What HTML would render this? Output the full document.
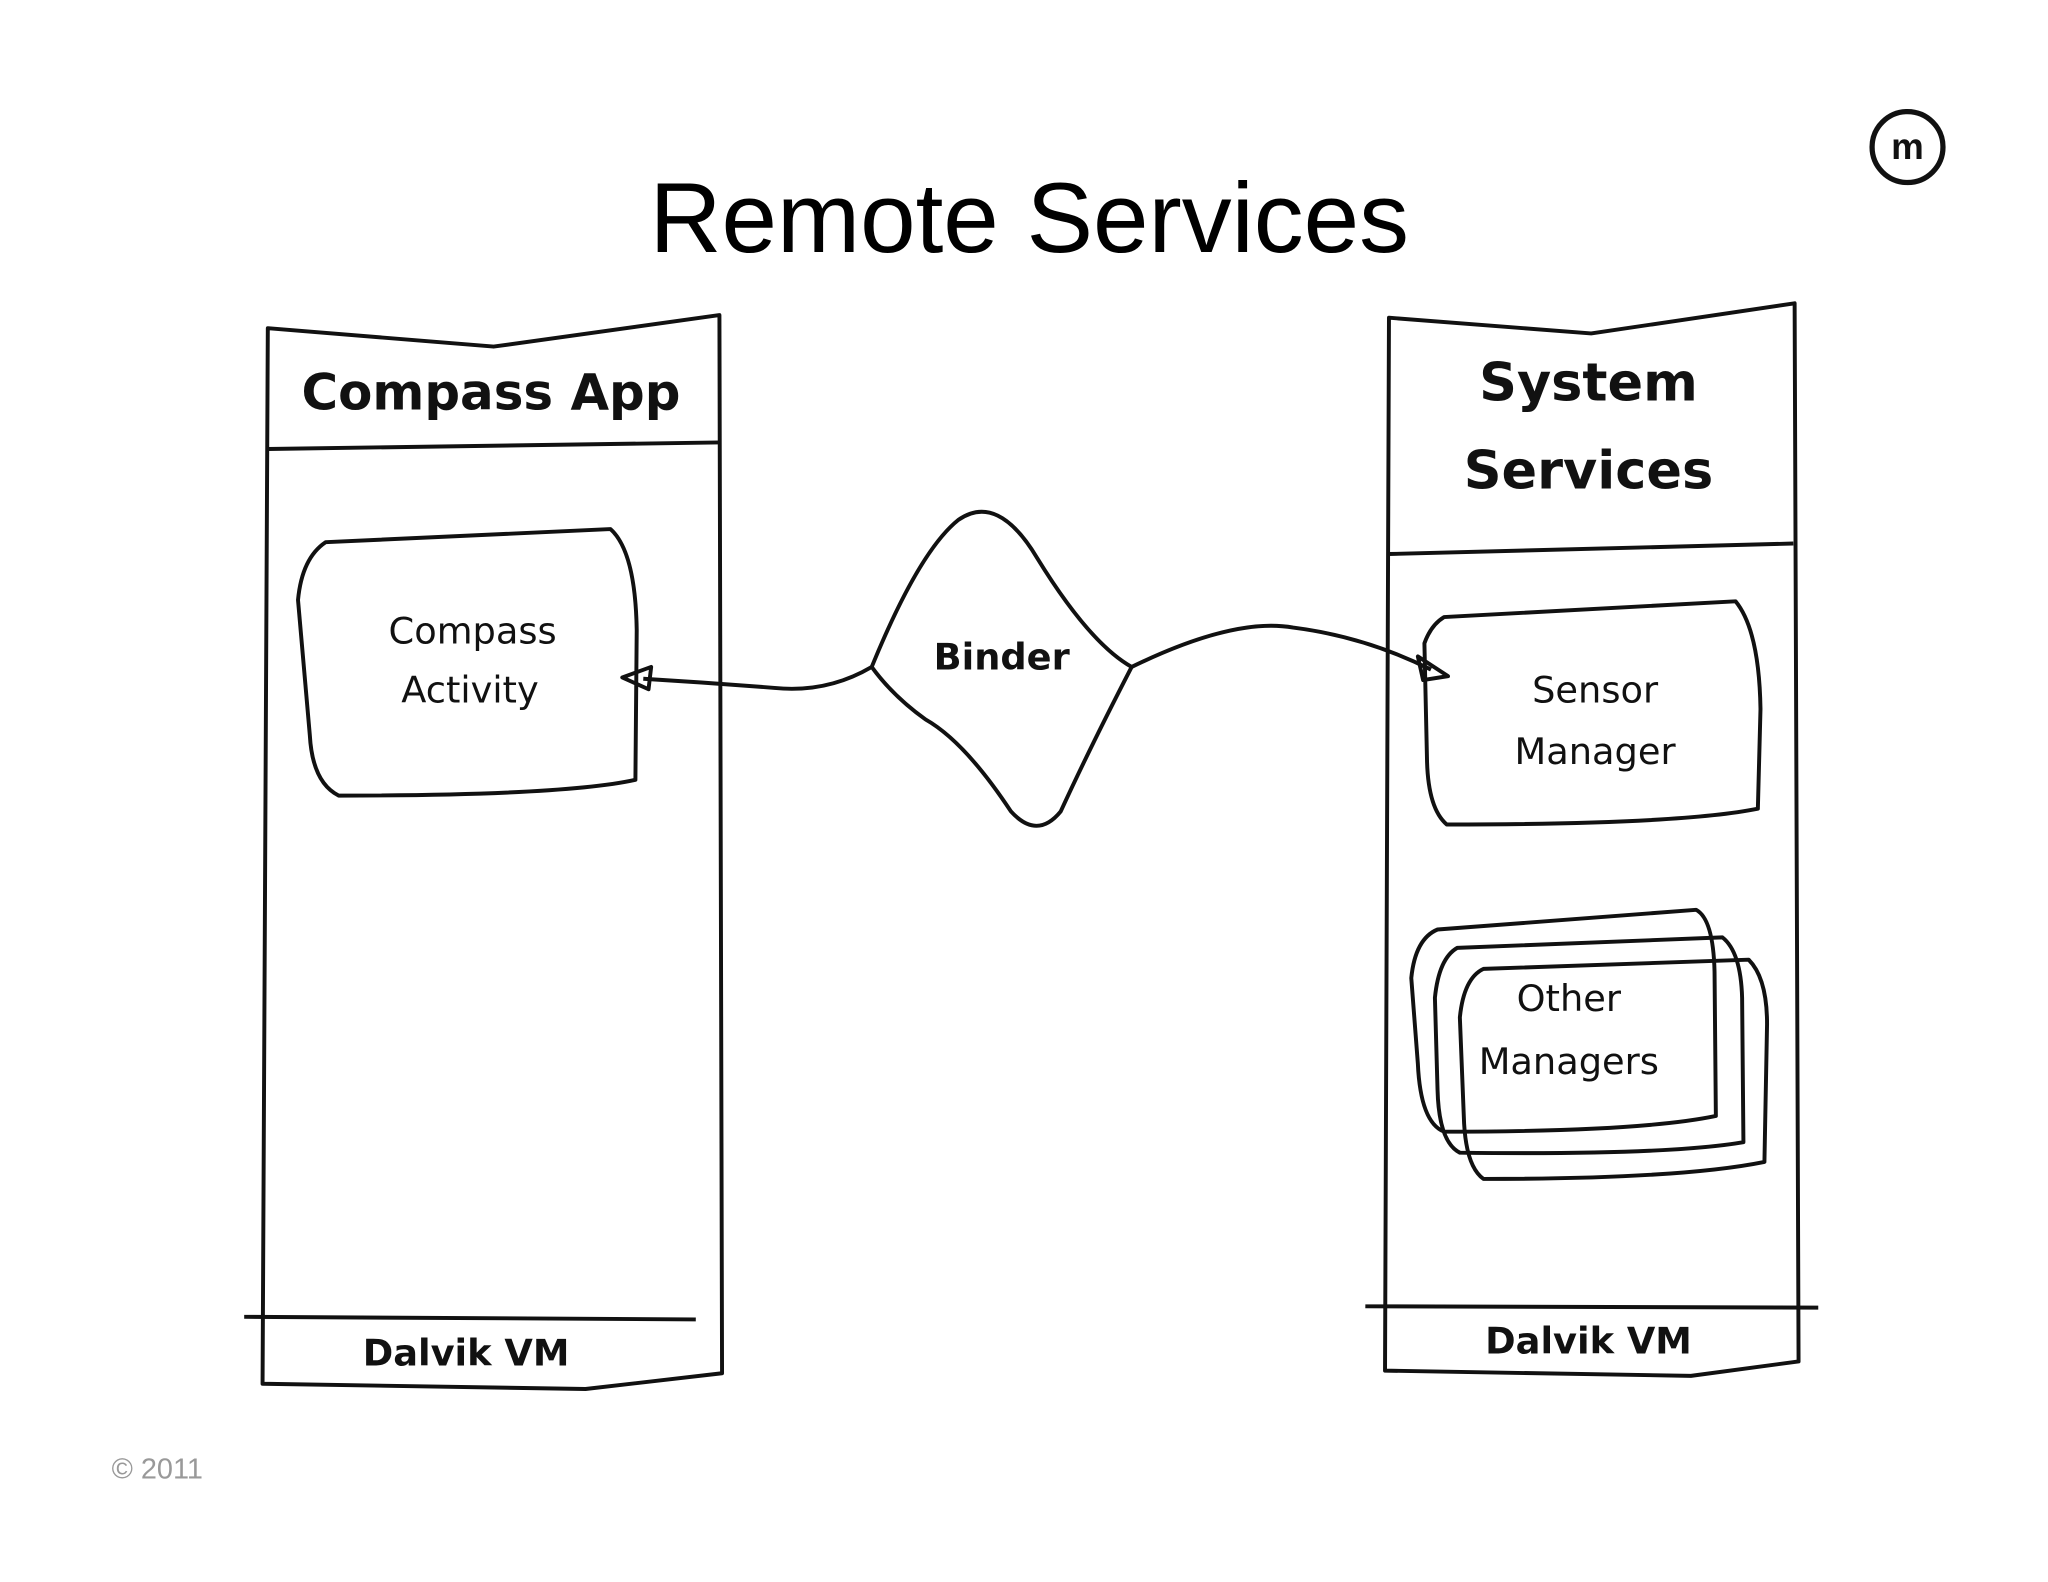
<!DOCTYPE html>
<html><head><meta charset="utf-8"><style>
html,body{margin:0;padding:0;background:#fff;width:2048px;height:1582px;overflow:hidden}
svg{display:block}
.h{font-family:"Comic Sans MS","DejaVu Sans","Liberation Sans",sans-serif;fill:#111}
</style></head><body>
<svg width="2048" height="1582" viewBox="0 0 1560 1205" preserveAspectRatio="none" xmlns="http://www.w3.org/2000/svg">
<g fill="none" stroke="#111" stroke-width="3" stroke-linejoin="round">
<path d="M204,250 L376,264 L548,240 L550,1046 L446,1058 L200,1054 Z"/>
<path d="M204,342 L548,337"/>
<path d="M186,1003 L530,1005"/>
<path d="M1058,242 L1212,254 L1367,231 L1370,1037 L1288,1048 L1055,1044 Z"/>
<path d="M1058,422 L1366,414"/>
<path d="M1040,995 L1385,996"/>
<path d="M248,413 L465,403 Q484,420 485,480 L484,594 Q430,606 258,606 Q238,596 236,560 L227,457 Q230,425 248,413 Z"/>
<path d="M1100,470 L1322,458 Q1340,480 1341,540 L1339,616 Q1280,628 1102,628 Q1088,616 1087,580 L1085,490 Q1090,476 1100,470 Z"/>
<path d="M1095,708 L1292,693 Q1305,700 1306,740 L1307,850 Q1250,862 1100,862 Q1082,855 1080,810 L1075,745 Q1078,715 1095,708 Z"/>
<path d="M1110,722 L1312,714 Q1326,725 1327,760 L1328,870 Q1270,880 1112,878 Q1096,870 1095,830 L1093,760 Q1096,730 1110,722 Z"/>
<path d="M1130,738 L1332,731 Q1346,745 1346,780 L1344,885 Q1280,898 1130,898 Q1116,888 1115,850 L1112,775 Q1115,745 1130,738 Z"/>
<path d="M664,508 Q700,420 730,396 Q760,375 790,425 Q830,490 862,508 Q830,570 808,618 Q790,640 770,618 Q735,565 705,548 Q680,530 664,508 Z"/>
<path d="M664,508 Q630,528 590,524 Q540,520 490,517"/>
<path d="M862,508 Q940,470 985,478 Q1040,485 1090,510"/>
<path d="M474,516 L496,508 L494,525 Z"/>
<path d="M1103,515 L1080,500 L1084,518 Z"/>
<circle cx="1453" cy="112" r="27" stroke-width="4"/>
</g>
<text x="1453" y="121" text-anchor="middle" font-family="Liberation Sans,sans-serif" font-size="28" font-weight="bold" fill="#111">m</text>
<text x="784" y="192" text-anchor="middle" font-family="Liberation Sans,sans-serif" font-size="76" fill="#000">Remote Services</text>
<text class="h" x="374" y="312" text-anchor="middle" font-size="38" font-weight="bold">Compass App</text>
<text class="h" x="1210" y="305" text-anchor="middle" font-size="40" font-weight="bold">System</text>
<text class="h" x="1210" y="372" text-anchor="middle" font-size="40" font-weight="bold">Services</text>
<text class="h" x="360" y="490" text-anchor="middle" font-size="28">Compass</text>
<text class="h" x="358" y="535" text-anchor="middle" font-size="28">Activity</text>
<text class="h" x="763" y="510" text-anchor="middle" font-size="28" font-weight="bold">Binder</text>
<text class="h" x="1215" y="535" text-anchor="middle" font-size="28">Sensor</text>
<text class="h" x="1215" y="582" text-anchor="middle" font-size="28">Manager</text>
<text class="h" x="1195" y="770" text-anchor="middle" font-size="28">Other</text>
<text class="h" x="1195" y="818" text-anchor="middle" font-size="28">Managers</text>
<text class="h" x="355" y="1040" text-anchor="middle" font-size="28" font-weight="bold">Dalvik VM</text>
<text class="h" x="1210" y="1031" text-anchor="middle" font-size="28" font-weight="bold">Dalvik VM</text>
<text x="85" y="1126" font-family="Liberation Sans,sans-serif" font-size="22" fill="#999">© 2011</text>
</svg>
</body></html>
